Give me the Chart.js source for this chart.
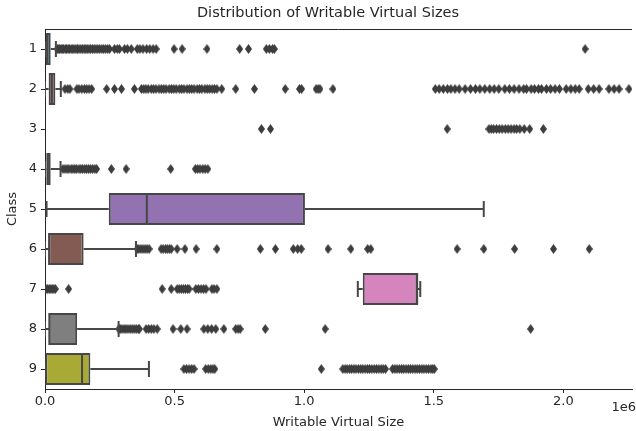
<!DOCTYPE html>
<html>
<head>
<meta charset="utf-8">
<script src="https://cdn.jsdelivr.net/npm/chart.js@4.4.0/dist/chart.umd.min.js"></script>
<style>
  html, body { margin: 0; padding: 0; background: #fff; }
</style>
</head>
<body>
<canvas id="boxChart" width="636" height="431"></canvas>
<script>
// Writable virtual size per class, values in units of 1e6
const classes = ['1', '2', '3', '4', '5', '6', '7', '8', '9'];
const whiskerLow = [0, 0, null, 0, 0.006, 0, 1.207, 0, 0];
const q1 = [0.004, 0.014, null, 0.005, 0.246, 0.013, 1.226, 0.014, 0.001];
const median = [0.009, 0.026, null, 0.011, 0.393, 0.016, 1.436, 0.017, 0.143];
const q3 = [0.022, 0.040, null, 0.022, 1.003, 0.149, 1.437, 0.124, 0.175];
const whiskerHigh = [0.042, 0.061, null, 0.060, 1.693, 0.351, 1.448, 0.284, 0.401];

const outliers1 = [0.047, 0.051, 0.056, 0.062, 0.066, 0.071, 0.078, 0.083, 0.089, 0.094, 0.101, 0.107, 0.112, 0.119, 0.125, 0.131, 0.138, 0.144, 0.151, 0.157, 0.163, 0.170, 0.176, 0.183, 0.190, 0.197, 0.204, 0.211, 0.219, 0.226, 0.234, 0.242, 0.249, 0.268, 0.279, 0.287, 0.307, 0.318, 0.333, 0.356, 0.366, 0.378, 0.392, 0.404, 0.417, 0.429, 0.498, 0.529, 0.625, 0.751, 0.785, 0.854, 0.866, 0.878, 0.885, 2.084];
const outliers2 = [0.077, 0.088, 0.096, 0.123, 0.131, 0.142, 0.152, 0.161, 0.170, 0.180, 0.238, 0.268, 0.295, 0.345, 0.372, 0.381, 0.389, 0.398, 0.41, 0.419, 0.428, 0.44, 0.449, 0.458, 0.467, 0.479, 0.488, 0.497, 0.506, 0.518, 0.527, 0.536, 0.548, 0.557, 0.566, 0.575, 0.587, 0.596, 0.605, 0.617, 0.626, 0.635, 0.645, 0.654, 0.663, 0.682, 0.736, 0.808, 0.927, 0.982, 0.99, 1.046, 1.054, 1.061, 1.111, 1.506, 1.521, 1.537, 1.553, 1.566, 1.582, 1.598, 1.621, 1.642, 1.661, 1.678, 1.697, 1.716, 1.733, 1.751, 1.774, 1.792, 1.81, 1.829, 1.847, 1.858, 1.876, 1.889, 1.904, 1.916, 1.935, 1.951, 1.968, 1.985, 2.011, 2.029, 2.046, 2.061, 2.096, 2.117, 2.138, 2.176, 2.196, 2.215, 2.253];
const outliers3 = [0.835, 0.870, 1.552, 1.713, 1.722, 1.731, 1.742, 1.753, 1.764, 1.776, 1.787, 1.798, 1.81, 1.82, 1.832, 1.849, 1.87, 1.923];
const outliers4 = [0.069, 0.077, 0.085, 0.092, 0.101, 0.108, 0.115, 0.122, 0.131, 0.138, 0.145, 0.153, 0.16, 0.168, 0.176, 0.184, 0.192, 0.199, 0.256, 0.313, 0.485, 0.58, 0.589, 0.598, 0.609, 0.618, 0.628];
const outliers5 = [];
const outliers6 = [0.356, 0.362, 0.37, 0.378, 0.386, 0.394, 0.402, 0.448, 0.456, 0.465, 0.472, 0.48, 0.487, 0.51, 0.54, 0.583, 0.663, 0.831, 0.889, 0.958, 0.975, 0.989, 1.092, 1.18, 1.245, 1.257, 1.59, 1.693, 1.812, 1.962, 2.1];
const outliers7 = [0.004, 0.01, 0.016, 0.022, 0.028, 0.034, 0.04, 0.091, 0.452, 0.487, 0.51, 0.518, 0.526, 0.534, 0.542, 0.55, 0.556, 0.582, 0.592, 0.602, 0.612, 0.621, 0.644, 0.652, 0.663];
const outliers8 = [0.285, 0.29, 0.297, 0.305, 0.312, 0.32, 0.328, 0.336, 0.344, 0.352, 0.36, 0.364, 0.39, 0.4, 0.41, 0.42, 0.433, 0.494, 0.524, 0.548, 0.613, 0.628, 0.643, 0.659, 0.69, 0.736, 0.745, 0.753, 0.85, 1.081, 1.874];
const outliers9 = [0.536, 0.546, 0.556, 0.566, 0.575, 0.62, 0.63, 0.64, 0.648, 0.655, 1.066, 1.149, 1.158, 1.166, 1.175, 1.183, 1.192, 1.2, 1.209, 1.218, 1.226, 1.235, 1.244, 1.252, 1.261, 1.27, 1.279, 1.288, 1.297, 1.305, 1.314, 1.341, 1.35, 1.358, 1.367, 1.376, 1.384, 1.393, 1.402, 1.41, 1.419, 1.428, 1.436, 1.445, 1.454, 1.462, 1.471, 1.48, 1.489, 1.496, 1.502];
const outliers = [outliers1, outliers2, outliers3, outliers4, outliers5, outliers6, outliers7, outliers8, outliers9];

const xTicks = [0, 0.5, 1.0, 1.5, 2.0];
const boxColors = ['#3274a1', '#845b53', '#3a923a', '#c03d3e', '#9372b2', '#845b53', '#d684bd', '#7f7f7f', '#a9aa35'];

const lineColor = '#474747';
const axisColor = '#262626';
const textColor = '#262626';
const fontFamily = "'DejaVu Sans', sans-serif";

// thin diamond marker like matplotlib 'd'
function makeDiamond() {
  const c = document.createElement('canvas');
  c.width = 7; c.height = 10;
  const g = c.getContext('2d');
  g.fillStyle = '#3d3d3d';
  g.beginPath();
  g.moveTo(3.5, 0); g.lineTo(7, 5); g.lineTo(3.5, 10); g.lineTo(0, 5);
  g.closePath(); g.fill();
  return c;
}

const outlierPoints = [];
outliers.forEach((list, i) => list.forEach(v => outlierPoints.push({ x: v, y: classes[i] })));

const boxExtras = {
  id: 'boxExtras',
  afterDatasetsDraw(chart) {
    const { ctx, chartArea, scales: { x, y } } = chart;
    const step = y.getPixelForValue(1) - y.getPixelForValue(0);
    const capHalf = step * 0.8 / 4;
    const boxHalf = step * 0.8 / 2;
    ctx.save();
    ctx.beginPath();
    ctx.rect(chartArea.left, chartArea.top, chartArea.width, chartArea.height);
    ctx.clip();
    ctx.strokeStyle = lineColor;
    ctx.lineWidth = 2;
    classes.forEach((c, i) => {
      if (q1[i] == null) return;
      const cy = y.getPixelForValue(i);
      const lo = x.getPixelForValue(whiskerLow[i]);
      const a = x.getPixelForValue(q1[i]);
      const b = x.getPixelForValue(q3[i]);
      const hi = x.getPixelForValue(whiskerHigh[i]);
      const m = x.getPixelForValue(median[i]);
      ctx.beginPath();
      ctx.moveTo(lo, cy); ctx.lineTo(a, cy);
      ctx.moveTo(b, cy); ctx.lineTo(hi, cy);
      ctx.moveTo(lo, cy - capHalf); ctx.lineTo(lo, cy + capHalf);
      ctx.moveTo(hi, cy - capHalf); ctx.lineTo(hi, cy + capHalf);
      ctx.moveTo(m, cy - boxHalf); ctx.lineTo(m, cy + boxHalf);
      ctx.stroke();
    });
    ctx.restore();

    // top spine
    ctx.save();
    ctx.strokeStyle = axisColor;
    ctx.lineWidth = 1;
    ctx.beginPath();
    ctx.moveTo(chartArea.left, chartArea.top + 0.5);
    ctx.lineTo(chartArea.right, chartArea.top + 0.5);
    ctx.stroke();

    ctx.fillStyle = textColor;
    ctx.font = '14.5px ' + fontFamily;
    ctx.textAlign = 'center';
    ctx.textBaseline = 'middle';
    ctx.fillText('Distribution of Writable Virtual Sizes', 328, 13);
    ctx.font = '13px ' + fontFamily;
    ctx.textAlign = 'right';
    ctx.fillText('1e6', 636, 408);
    ctx.restore();
  }
};

new Chart(document.getElementById('boxChart'), {
  type: 'bar',
  data: {
    labels: classes,
    datasets: [
      {
        type: 'bar',
        data: classes.map((c, i) => q1[i] == null ? null : [q1[i], q3[i]]),
        backgroundColor: boxColors,
        borderColor: lineColor,
        borderWidth: 2,
        borderSkipped: false,
        barPercentage: 0.8,
        categoryPercentage: 1,
        grouped: false
      },
      {
        type: 'scatter',
        data: outlierPoints,
        pointStyle: makeDiamond(),
        pointRadius: 3,
        pointHoverRadius: 3
      }
    ]
  },
  options: {
    indexAxis: 'y',
    responsive: false,
    animation: false,
    layout: { padding: { top: 29, left: 0, right: 0, bottom: 0 } },
    plugins: { legend: { display: false }, tooltip: { enabled: false }, title: { display: false } },
    scales: {
      x: {
        type: 'linear',
        min: 0,
        max: 2.265,
        afterBuildTicks: scale => { scale.ticks = xTicks.map(v => ({ value: v })); },
        afterFit: scale => { scale.height = 42; },
        ticks: { color: textColor, font: { family: fontFamily, size: 13 }, padding: 1, maxRotation: 0, callback: v => v.toFixed(1) },
        grid: { drawOnChartArea: false, drawTicks: true, tickLength: 4, tickColor: axisColor },
        border: { display: true, color: axisColor, width: 1 },
        title: { display: true, text: 'Writable Virtual Size', color: textColor, font: { family: fontFamily, size: 13 }, padding: { top: 0, bottom: 1 } }
      },
      y: {
        type: 'category',
        labels: classes,
        offset: true,
        afterFit: scale => { scale.width = 45; },
        ticks: { color: textColor, font: { family: fontFamily, size: 13 }, padding: 4 },
        grid: { drawOnChartArea: false, drawTicks: true, tickLength: 4, tickColor: axisColor, offset: false },
        border: { display: true, color: axisColor, width: 1 },
        title: { display: true, text: 'Class', color: textColor, font: { family: fontFamily, size: 13 }, padding: { top: 5, bottom: 0 } }
      }
    }
  },
  plugins: [boxExtras]
});
</script>
</body>
</html>
